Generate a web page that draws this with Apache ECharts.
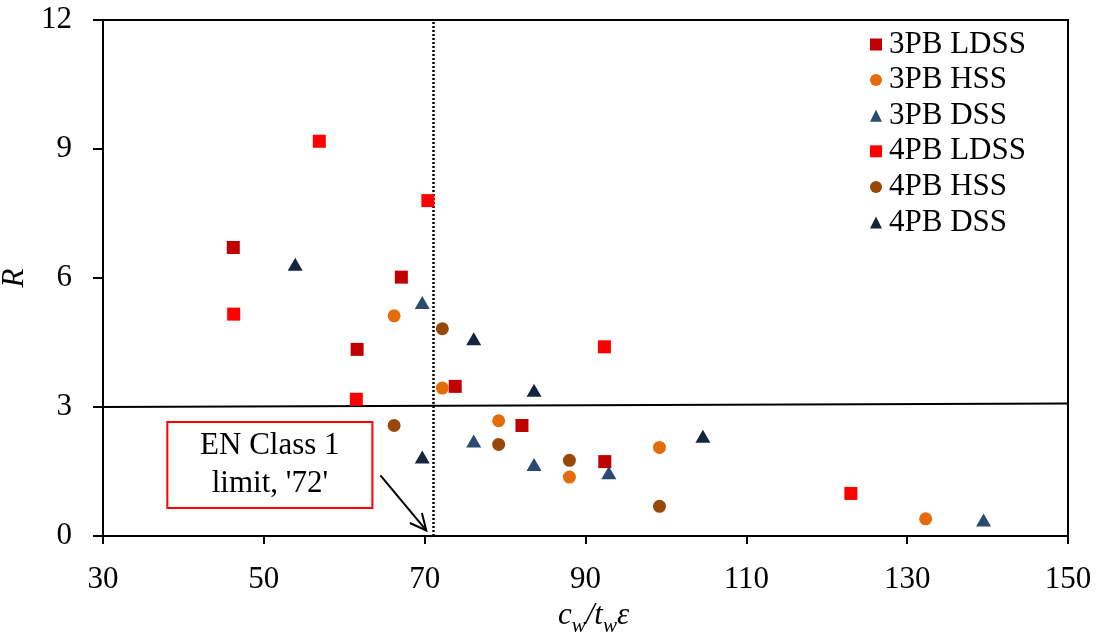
<!DOCTYPE html>
<html><head><meta charset="utf-8">
<script src="https://cdn.jsdelivr.net/npm/echarts@6/dist/echarts.min.js"></script>
<style>html,body{margin:0;padding:0;background:#fff}#chart{width:1099px;height:632px}</style>
</head><body><div id="chart"></div>
<script>
// Slenderness ratio c_w/t_w·ε versus rotation capacity R
const xTicks = [30, 50, 70, 90, 110, 130, 150];
const yTicks = [0, 3, 6, 9, 12];
const ldss3 = [[46.2, 6.71], [67.1, 6.02], [61.6, 4.34], [73.8, 3.48], [82.1, 2.57], [92.4, 1.73]];
const hss3 = [[66.2, 5.12], [72.2, 3.44], [79.2, 2.68], [88.0, 1.37], [99.2, 2.06], [132.3, 0.40]];
const dss3 = [[69.7, 5.43], [76.1, 2.21], [83.6, 1.66], [92.9, 1.47], [139.5, 0.37]];
const ldss4 = [[56.9, 9.18], [70.4, 7.80], [46.25, 5.16], [92.35, 4.40], [61.5, 3.18], [123.0, 0.99]];
const hss4 = [[72.2, 4.82], [66.2, 2.57], [79.2, 2.13], [88.0, 1.76], [99.2, 0.69]];
const dss4 = [[53.9, 6.32], [76.1, 4.59], [83.6, 3.39], [69.7, 1.84], [104.6, 2.32]];
const classLimitX = 71.1;
const rLimitLine = [[30, 3.0], [150, 3.08]];
const noteBox = [[38.0, 2.65], [63.5, 0.65]];
const noteLines = ['EN Class 1', "limit, '72'"];
const arrowFrom = [64.5, 1.41];
const arrowTo = [70.2, 0.13];

const SERIF = 'Liberation Serif, Times New Roman, serif';
const chart = echarts.init(document.getElementById('chart'));

function scatter(name, data, symbol, color, size) {
  return { name, type: 'scatter', data, symbol, symbolSize: size, itemStyle: { color, opacity: 1 }, z: 5 };
}

const series = [
  scatter('3PB LDSS', ldss3, 'rect', '#C00000', 13),
  scatter('3PB HSS', hss3, 'circle', '#E46C0A', 13),
  scatter('3PB DSS', dss3, 'triangle', '#2B4A70', [15, 13]),
  scatter('4PB LDSS', ldss4, 'rect', '#FF0000', 13),
  scatter('4PB HSS', hss4, 'circle', '#984807', 13),
  scatter('4PB DSS', dss4, 'triangle', '#14263F', [15, 13])
];
series[0].markLine = {
  silent: true, symbol: ['none', 'none'], label: { show: false }, animation: false,
  data: [
    { xAxis: classLimitX, lineStyle: { type: [2, 2], color: '#000', width: 2.5 } },
    [{ coord: rLimitLine[0], lineStyle: { type: 'solid', color: '#000', width: 2 } }, { coord: rLimitLine[1] }]
  ]
};

chart.setOption({
  animation: false,
  backgroundColor: '#fff',
  grid: { left: 103, right: 31, top: 20, bottom: 96, show: true, borderColor: '#000', borderWidth: 2, outerBoundsMode: 'none', containLabel: false },
  legend: {
    orient: 'vertical', left: 865, top: 24, itemWidth: 12, itemHeight: 12, itemGap: 4.6,
    data: series.map(s => s.name),
    textStyle: { fontFamily: SERIF, fontSize: 31, lineHeight: 31, color: '#000', padding: [0, 0, 0, 2] }
  },
  xAxis: {
    type: 'value', min: xTicks[0], max: xTicks[xTicks.length - 1], interval: 20,
    splitLine: { show: false },
    axisLine: { lineStyle: { color: '#000', width: 2 } },
    axisTick: { show: true, length: 8, lineStyle: { color: '#000', width: 2 } },
    axisLabel: { fontFamily: SERIF, fontSize: 31, color: '#000', margin: 28 },
    name: '{i|c}{s|w}{i|/t}{s|w}{i|ε}',
    nameLocation: 'middle', nameGap: 63,
    nameTextStyle: {
      padding: [0, 0, 0, 16],
      rich: {
        i: { fontFamily: SERIF, fontStyle: 'italic', fontSize: 31, color: '#000', verticalAlign: 'top', lineHeight: 31 },
        s: { fontFamily: SERIF, fontStyle: 'italic', fontSize: 21, color: '#000', verticalAlign: 'top', lineHeight: 21, padding: [16, 0, 0, 0] }
      }
    }
  },
  yAxis: {
    type: 'value', min: yTicks[0], max: yTicks[yTicks.length - 1], interval: 3,
    splitLine: { show: false },
    axisLine: { lineStyle: { color: '#000', width: 2 } },
    axisTick: { show: true, length: 10, lineStyle: { color: '#000', width: 2 } },
    axisLabel: { fontFamily: SERIF, fontSize: 31, color: '#000', margin: 31 },
    name: 'R', nameLocation: 'middle', nameGap: 51,
    nameTextStyle: { fontFamily: SERIF, fontStyle: 'italic', fontSize: 31, color: '#000' }
  },
  series
});

// Annotation: Class 1 limit note with arrow pointing at the dotted line
function px(p) { return chart.convertToPixel({ gridIndex: 0 }, p); }
const b0 = px(noteBox[0]), b1 = px(noteBox[1]);
const a0 = px(arrowFrom), a1 = px(arrowTo);
const ang = Math.atan2(a1[1] - a0[1], a1[0] - a0[0]);
const head = 18, spread = 0.45;
const h1 = [a1[0] - head * Math.cos(ang - spread), a1[1] - head * Math.sin(ang - spread)];
const h2 = [a1[0] - head * Math.cos(ang + spread), a1[1] - head * Math.sin(ang + spread)];
const cx = (b0[0] + b1[0]) / 2, cy = (b0[1] + b1[1]) / 2;
chart.setOption({
  graphic: [
    { type: 'rect', shape: { x: b0[0], y: b0[1], width: b1[0] - b0[0], height: b1[1] - b0[1] },
      style: { fill: '#fff', stroke: '#FF0000', lineWidth: 2 }, z: 10 },
    { type: 'text', x: cx, y: cy - 19, z: 11,
      style: { text: noteLines[0], fontFamily: SERIF, fontSize: 31, fill: '#000', align: 'center', verticalAlign: 'middle' } },
    { type: 'text', x: cx, y: cy + 19, z: 11,
      style: { text: noteLines[1], fontFamily: SERIF, fontSize: 31, fill: '#000', align: 'center', verticalAlign: 'middle' } },
    { type: 'polyline', shape: { points: [a0, a1] }, style: { stroke: '#000', lineWidth: 2 }, z: 10 },
    { type: 'polyline', shape: { points: [h1, a1, h2] }, style: { stroke: '#000', lineWidth: 2, fill: null }, z: 10 }
  ]
});
</script></body></html>
